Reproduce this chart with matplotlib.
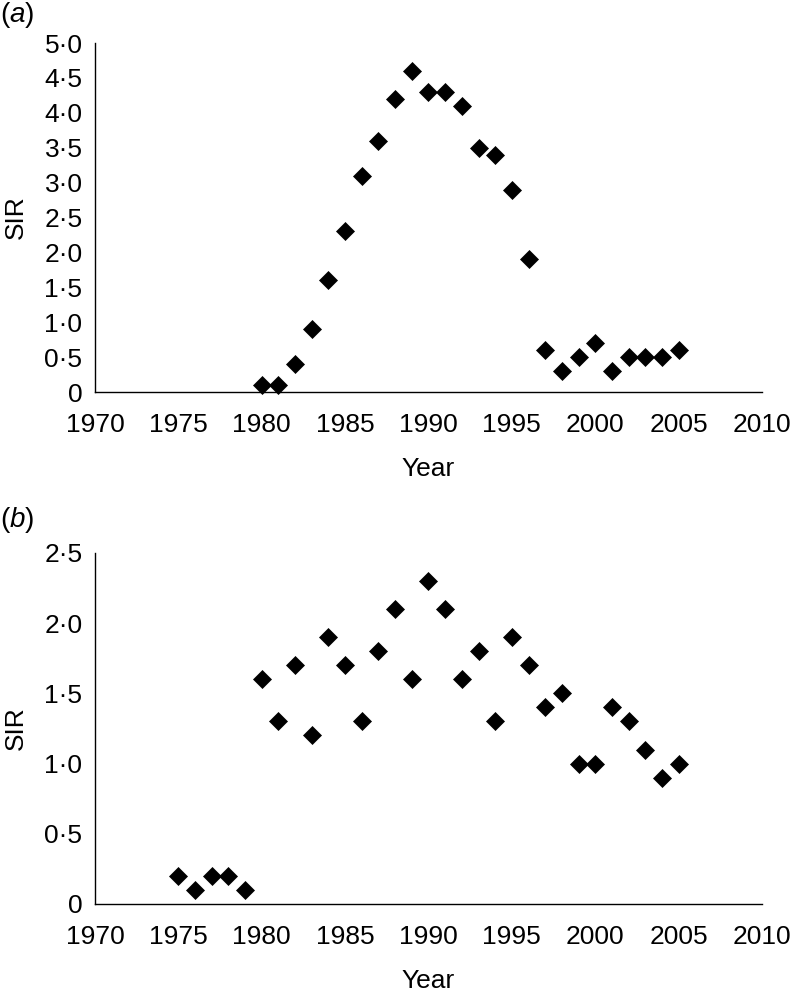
import matplotlib
matplotlib.use("Agg")
import matplotlib.pyplot as plt

plt.rcParams['font.family'] = ['Liberation Sans', 'DejaVu Sans']
plt.rcParams['mathtext.fontset'] = 'custom'
plt.rcParams['mathtext.it'] = 'Liberation Sans:italic'
plt.rcParams['mathtext.rm'] = 'Liberation Sans'

# panel (a)
years_a = list(range(1980, 2006))
sir_a = [0.1, 0.1, 0.4, 0.9, 1.6, 2.3, 3.1, 3.6, 4.2, 4.6,
         4.3, 4.3, 4.1, 3.5, 3.4, 2.9, 1.9, 0.6, 0.3, 0.5,
         0.7, 0.3, 0.5, 0.5, 0.5, 0.6]
yticks_a = [0, 0.5, 1.0, 1.5, 2.0, 2.5, 3.0, 3.5, 4.0, 4.5, 5.0]

# panel (b)
years_b = list(range(1975, 2006))
sir_b = [0.2, 0.1, 0.2, 0.2, 0.1, 1.6, 1.3, 1.7, 1.2, 1.9,
         1.7, 1.3, 1.8, 2.1, 1.6, 2.3, 2.1, 1.6, 1.8, 1.3,
         1.9, 1.7, 1.4, 1.5, 1.0, 1.0, 1.4, 1.3, 1.1, 0.9, 1.0]
yticks_b = [0, 0.5, 1.0, 1.5, 2.0, 2.5]

xticks = [1970, 1975, 1980, 1985, 1990, 1995, 2000, 2005, 2010]

FS = 19


def fmt(v):
    if v == 0:
        return "0"
    return ("%.1f" % v).replace(".", "\u00b7")


fig = plt.figure(figsize=(7.91, 9.96), dpi=100)
ax_a = fig.add_axes([0.1201, 0.6064, 0.8432, 0.3504])
ax_b = fig.add_axes([0.1201, 0.0924, 0.8432, 0.3524])

for ax, x, y, yt, ymax in [(ax_a, years_a, sir_a, yticks_a, 5.0),
                           (ax_b, years_b, sir_b, yticks_b, 2.5)]:
    ax.plot(x, y, linestyle='none', marker='D', color='black',
            markersize=9, markeredgewidth=0.5, clip_on=False)
    ax.set_xlim(1970, 2010)
    ax.set_ylim(0, ymax)
    ax.set_xticks(xticks)
    ax.set_xticklabels([str(t) for t in xticks])
    ax.set_yticks(yt)
    ax.set_yticklabels([fmt(v) for v in yt])
    ax.tick_params(axis='both', length=0, labelsize=FS)
    ax.tick_params(axis='x', pad=15)
    ax.tick_params(axis='y', pad=9)
    for s in ['top', 'right']:
        ax.spines[s].set_visible(False)
    for s in ['left', 'bottom']:
        ax.spines[s].set_linewidth(1.0)
    ax.set_xlabel("Year", fontsize=FS)
    ax.set_ylabel("SIR", fontsize=FS)
    ax.xaxis.set_label_coords(0.5, -0.185)
    ax.yaxis.set_label_coords(-0.100, 0.5)

fig.text(0.0, 0.985, r"($\mathit{a}$)", fontsize=20, va='center', ha='left')
fig.text(0.0, 0.478, r"($\mathit{b}$)", fontsize=20, va='center', ha='left')

fig.savefig("out.png", dpi=100)
